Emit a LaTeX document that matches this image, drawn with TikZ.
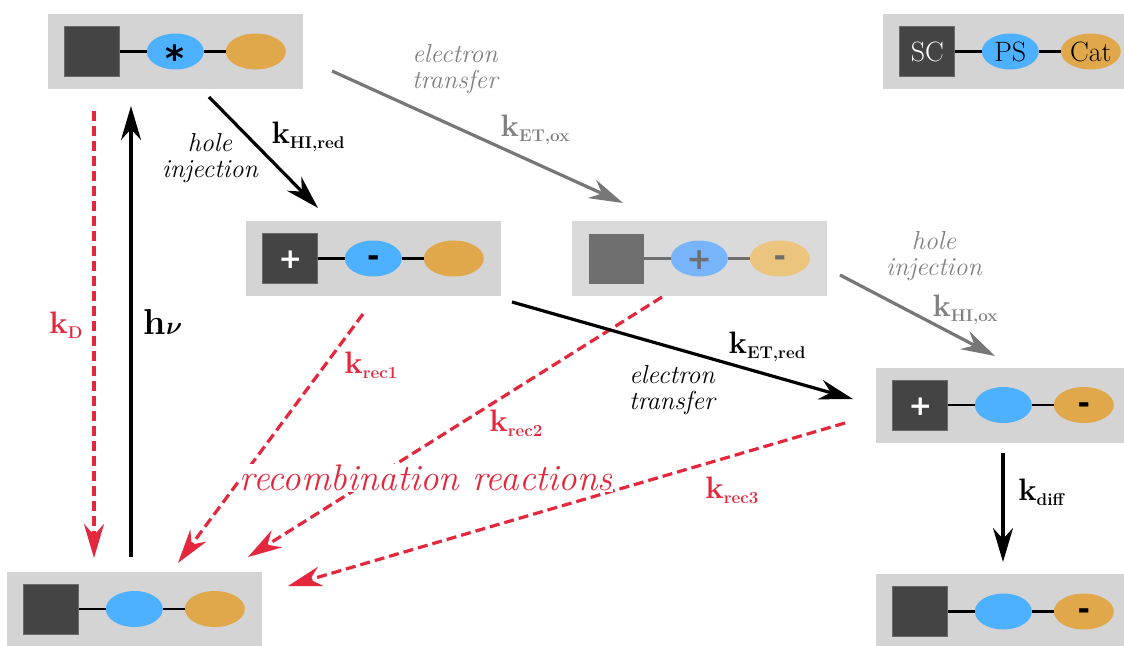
\documentclass[tikz,border=0pt]{standalone}
\usepackage{amsmath}
\usepackage{fontspec}
\newfontfamily\djv{DejaVu Sans}
\usetikzlibrary{arrows.meta,shapes.geometric}
\definecolor{boxgray}{HTML}{D4D4D4}
\definecolor{boxgrayf}{HTML}{DADADA}
\definecolor{sqdark}{HTML}{444444}
\definecolor{sqedge}{HTML}{6A6A6A}
\definecolor{sqfaded}{HTML}{6E6E6E}
\definecolor{psblue}{HTML}{4DB1FF}
\definecolor{psbluef}{HTML}{78B4FA}
\definecolor{catorange}{HTML}{E0A84B}
\definecolor{catorangef}{HTML}{EBC47E}
\definecolor{recred}{HTML}{E3283E}
\definecolor{arrgray}{HTML}{777777}
\definecolor{txtgray}{HTML}{808080}
\newcommand{\fsz}[1]{\fontsize{#1}{#1}\selectfont}
\newcommand{\kk}[1]{{\fsz{31}k}\raisebox{-5pt}{\fsz{17}#1}}
\newcommand{\legtxt}[1]{{\rmfamily\mdseries\fsz{28}#1}}
\newcommand{\astx}{{\fsz{36}\raisebox{-0.56em}[0pt][0pt]{*}}}
\newcommand{\mns}{\raisebox{-0.28em}[0pt][0pt]{-}}
\newcommand{\pls}{\raisebox{-0.36em}[0pt][0pt]{+}}
\tikzset{
  boxn/.style={fill=boxgray, minimum width=255pt, minimum height=75pt, inner sep=0pt},
  boxf/.style={fill=boxgrayf, minimum width=255pt, minimum height=75pt, inner sep=0pt},
  sqn/.style={fill=sqdark, draw=sqedge, line width=0.7pt, minimum width=55pt, minimum height=50pt, inner sep=0pt, text=white, font=\fsz{28}\djv\bfseries},
  sqf/.style={fill=sqfaded, minimum width=55pt, minimum height=50pt, inner sep=0pt},
  psn/.style={ellipse, fill=psblue, minimum width=57pt, minimum height=36pt, inner sep=0pt, font=\fsz{30}\djv\bfseries},
  psf/.style={ellipse, fill=psbluef, minimum width=57pt, minimum height=36pt, inner sep=0pt, text=sqfaded, font=\fsz{30}\djv\bfseries},
  catn/.style={ellipse, fill=catorange, minimum width=60pt, minimum height=36pt, inner sep=0pt, font=\fsz{30}\djv\bfseries},
  catf/.style={ellipse, fill=catorangef, minimum width=60pt, minimum height=36pt, inner sep=0pt, text=sqfaded, font=\fsz{30}\djv\bfseries},
  linkn/.style={line width=2.5pt, black},
  linkf/.style={line width=2.5pt, sqfaded},
  tip/.style={-{Stealth[length=34pt,width=20pt,inset=11pt]}},
  blk/.style={tip, line width=3.2pt, black},
  gry/.style={tip, line width=3.2pt, arrgray},
  rdash/.style={tip, line width=3.2pt, recred, dash pattern=on 10pt off 5pt},
  klab/.style={font=\bfseries, inner sep=0pt},
  itlab/.style={font=\fsz{26}\itshape, align=center, inner sep=0pt},
}
\newcommand{\mol}[6]{%
  \node[box#6] (#1) at (#2) {};
  \node[sq#6] (#1s) at ([xshift=44.5pt]#1.west) {#3};
  \node[ps#6] (#1p) at ([xshift=127.5pt]#1.west) {#4};
  \node[cat#6] (#1c) at ([xshift=208pt]#1.west) {#5};
  \draw[link#6] (#1s) -- (#1p) (#1p) -- (#1c);
}
\begin{document}
\begin{tikzpicture}[x=1pt,y=-1pt]
\useasboundingbox (0,0) rectangle (1124,645);
\clip (0,0) rectangle (1124,645);
% molecules
\mol{m1}{175.5,51.5}{}{\astx}{}{n}
\mol{mL}{1010.5,51.5}{\legtxt{SC}}{\legtxt{PS}}{\legtxt{Cat}}{n}
\mol{m2}{373.5,258.5}{\pls}{\mns}{}{n}
\mol{m3}{699.5,258.5}{}{\pls}{\mns}{f}
\mol{m4}{1003.5,405}{\pls}{}{\mns}{n}
\mol{m5}{1003.5,611.5}{}{}{\mns}{n}
\mol{m6}{134.5,609}{}{}{}{n}
% coordinates of connector ends
\coordinate (hnuS) at (131,557);  \coordinate (hnuE) at (131,106);
\coordinate (kdS) at (94,111);    \coordinate (kdE) at (94,558);
\coordinate (hirS) at (209,97);   \coordinate (hirE) at (318,208);
\coordinate (etoS) at (332,71);   \coordinate (etoE) at (623,203);
\coordinate (etrS) at (512,302);  \coordinate (etrE) at (853,399);
\coordinate (hioS) at (840,275);  \coordinate (hioE) at (995,356);
\coordinate (kdfS) at (1003,453); \coordinate (kdfE) at (1003,562);
\coordinate (r1S) at (363,314);   \coordinate (r1E) at (178,563);
\coordinate (r2S) at (662,297);   \coordinate (r2E) at (248,557);
\coordinate (r3S) at (845,423);   \coordinate (r3E) at (288,586);
% red dashed recombination
\draw[rdash] (kdS) -- (kdE);
\draw[rdash] (r1S) -- (r1E);
\draw[rdash] (r2S) -- (r2E);
\draw[rdash] (r3S) -- (r3E);
\node[font=\fsz{37}\itshape, text=recred, fill=white, inner sep=1pt] (rec) at (426,478) {recombination reactions};
% solid arrows
\draw[blk] (hnuS) -- (hnuE);
\draw[blk] (hirS) -- (hirE);
\draw[gry] (etoS) -- (etoE);
\draw[blk] (etrS) -- (etrE);
\draw[gry] (hioS) -- (hioE);
\draw[blk] (kdfS) -- (kdfE);
% labels
\node[klab, text=recred] (lkD) at (66,325) {\kk{D}};
\node[font=\fsz{36}\bfseries, inner sep=0pt] (lhnu) at (163,322) {h$\boldsymbol{\nu}$};
\node[itlab] (lhi1) at (210,158) {hole\\injection};
\node[klab] (lkhir) at (308,137) {\kk{HI,red}};
\node[itlab, text=txtgray] (let1) at (455,69) {electron\\transfer};
\node[klab, text=txtgray] (lketo) at (535,130) {\kk{ET,ox}};
\node[klab] (lketr) at (767,347) {\kk{ET,red}};
\node[itlab] (let2) at (672,390) {electron\\transfer};
\node[itlab, text=txtgray] (lhi2) at (934,256) {hole\\injection};
\node[klab, text=txtgray] (lkhio) at (965,310) {\kk{HI,ox}};
\node[klab] (lkdif) at (1041,492) {\kk{diff}};
\node[klab, text=recred] (lr1) at (371,365) {\kk{rec1}};
\node[klab, text=recred] (lr2) at (516,423) {\kk{rec2}};
\node[klab, text=recred] (lr3) at (732,490) {\kk{rec3}};
\end{tikzpicture}
\end{document}
